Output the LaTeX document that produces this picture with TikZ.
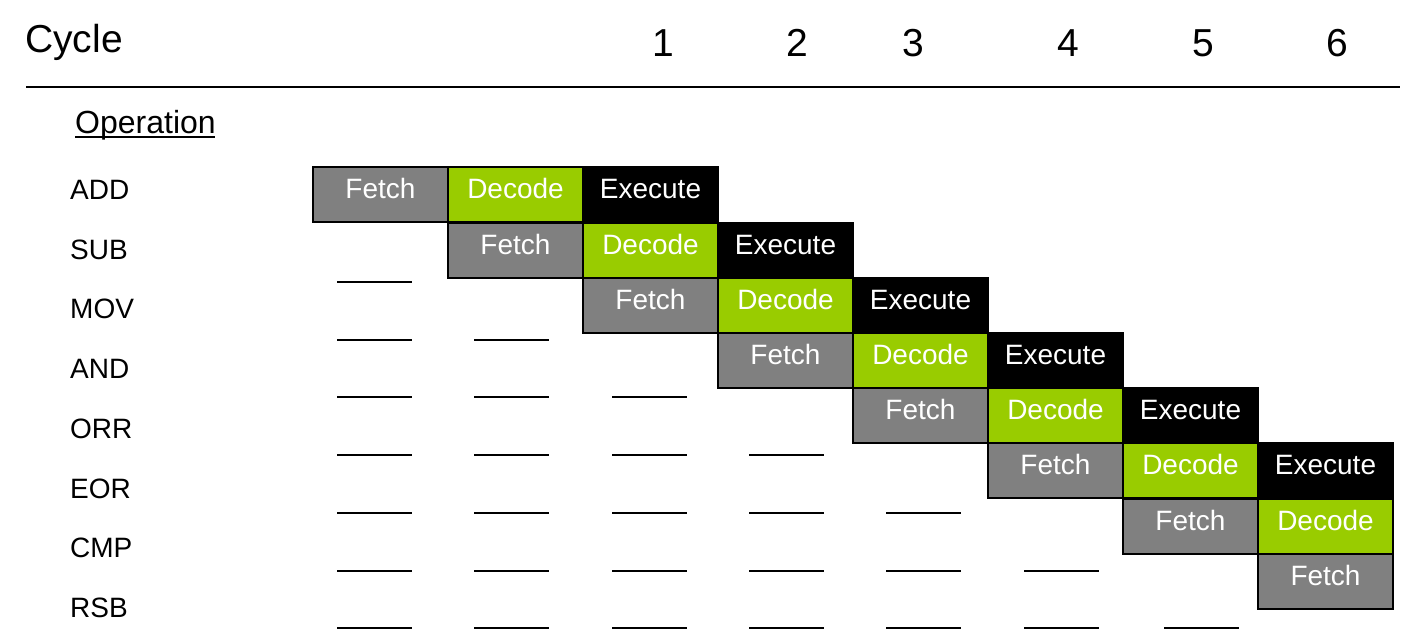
\documentclass[tikz,border=0pt]{standalone}
\usepackage{fontspec}
\setmainfont{Liberation Sans}
\definecolor{fgray}{HTML}{808080}
\definecolor{dgreen}{HTML}{99CC00}
\begin{document}
\begin{tikzpicture}[x=1pt,y=-1pt,
  stage/.style={draw=black, line width=2pt, minimum width=135pt, minimum height=55pt,
    inner sep=0pt, outer sep=0pt, anchor=north west, text=white,
    font=\fontsize{28}{28}\selectfont, text height=20pt, text depth=12pt},
  fetchbox/.style={stage, fill=fgray},
  decodebox/.style={stage, fill=dgreen},
  execbox/.style={stage, fill=black},
  oplabel/.style={anchor=base west, inner sep=0pt, font=\fontsize{28}{28}\selectfont},
  cyclenum/.style={anchor=base, inner sep=0pt, font=\fontsize{39}{39}\selectfont},
  blank/.style={line width=2pt}
]
\useasboundingbox (0,0) rectangle (1411,642);

% header
\node[anchor=base west, inner sep=0pt, font=\fontsize{39}{39}\selectfont] (cycle) at (25,53) {Cycle};
\foreach \n/\x in {1/663,2/797,3/913,4/1068,5/1203,6/1337}
  \node[cyclenum] (c\n) at (\x,57) {\n};
\coordinate (ruleL) at (26,87);
\coordinate (ruleR) at (1400,87);
\draw[line width=2.4pt] (ruleL) -- (ruleR);

\node[anchor=base west, inner sep=0pt, font=\fontsize{32}{32}\selectfont] (op) at (75,133) {Operation};
\draw[line width=2pt] (op.base west) ++(0,3.5) -- ++(140,0);

% row labels
\foreach \i/\t in {1/ADD,2/SUB,3/MOV,4/AND,5/ORR,6/EOR,7/CMP,8/RSB}{
  \pgfmathsetmacro{\yy}{199.5+59.7*(\i-1)}
  \node[oplabel] (lab\i) at (70,\yy) {\t};
}

% pipeline boxes
\foreach \i in {1,...,8}{
  \pgfmathsetmacro{\xx}{313+135*(\i-1)}
  \pgfmathsetmacro{\yy}{167.3+55.2*(\i-1)}
  \node[fetchbox] (f\i) at (\xx,\yy) {Fetch};
  \ifnum\i<8
    \node[decodebox, anchor=north west] (d\i) at (f\i.north east) {Decode};
  \fi
  \ifnum\i<7
    \node[execbox, anchor=north west] (e\i) at (d\i.north east) {Execute};
  \fi
}

% blanks
\foreach \k in {1,...,7}{
  \pgfmathsetmacro{\yy}{282+57.7*(\k-1)}
  \foreach \c/\x in {1/337,2/474,3/612,4/749,5/886,6/1024,7/1164}{
    \ifnum\c>\k\relax\else
      \draw[blank] (\x,\yy) -- ++(75,0);
    \fi
  }
}
\end{tikzpicture}
\end{document}
